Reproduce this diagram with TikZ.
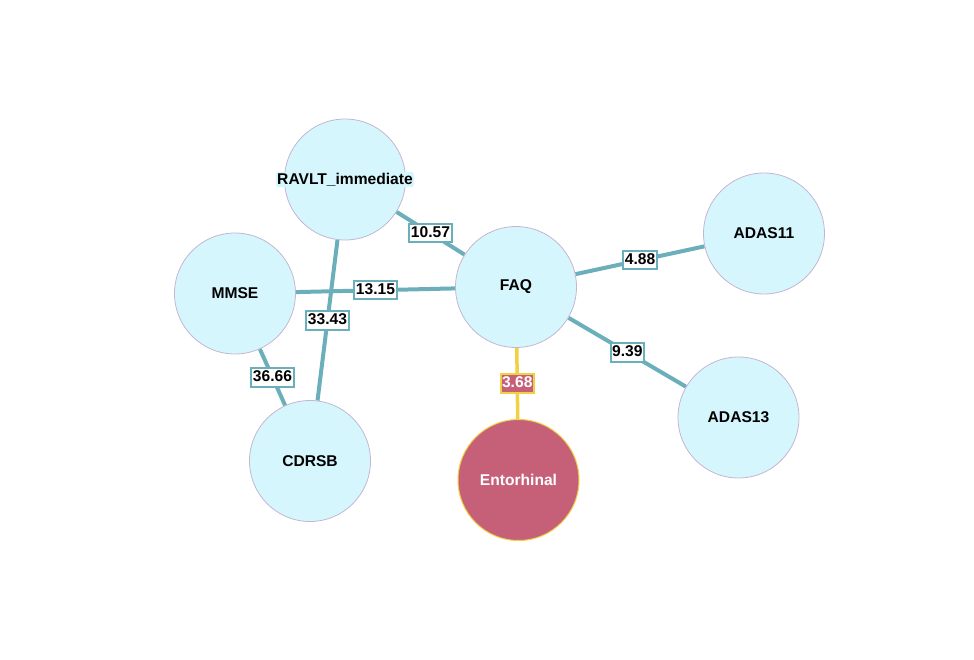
\documentclass[tikz,border=0pt]{standalone}
\usepackage{fontspec}
\setmainfont{Liberation Sans}
\usetikzlibrary{backgrounds}
\definecolor{nodefill}{HTML}{D6F6FD}
\definecolor{nodeedge}{HTML}{C4B6D2}
\definecolor{edgeteal}{HTML}{6BAFBA}
\definecolor{entfill}{HTML}{C66079}
\definecolor{entyellow}{HTML}{F1D043}
\begin{document}
\begin{tikzpicture}[x=1pt,y=-1pt,
  vnode/.style={circle, minimum size=121pt, inner sep=0pt, fill=nodefill, draw=nodeedge, line width=0.8pt},
  entnode/.style={circle, minimum size=121pt, inner sep=0pt, fill=entfill, draw=entyellow, line width=1pt},
  vtext/.style={font=\bfseries\fontsize{15.6}{18}\selectfont, fill=nodefill, inner sep=1pt, rounded corners=2pt},
  enttext/.style={font=\bfseries\fontsize{15.6}{18}\selectfont, text=white, inner sep=1pt},
  edge/.style={draw=edgeteal, line width=4pt},
  entedge/.style={draw=entyellow, line width=3.5pt},
  elabel/.style={midway, fill=white, draw=edgeteal, line width=2pt, inner sep=1.5pt,
    text height=12pt, text depth=3.5pt, font=\bfseries\fontsize{15.6}{18}\selectfont},
  entlabel/.style={midway, fill=entfill, draw=entyellow, line width=2pt, inner sep=1.5pt,
    text height=12pt, text depth=3.5pt, text=white, font=\bfseries\fontsize{15.6}{18}\selectfont}
]
\useasboundingbox (0,0) rectangle (974,660);
\node[vnode, label={[vtext]center:RAVLT\_immediate}] (ravlt) at (345,179.5) {};
\node[vnode, label={[vtext]center:FAQ}] (faq) at (516,287) {};
\node[vnode, label={[vtext]center:ADAS11}] (adas11) at (764,233.5) {};
\node[vnode, label={[vtext]center:MMSE}] (mmse) at (235,293.5) {};
\node[vnode, label={[vtext]center:ADAS13}] (adas13) at (738.5,417.5) {};
\node[vnode, label={[vtext]center:CDRSB}] (cdrsb) at (310,461) {};
\node[entnode, label={[enttext]center:Entorhinal}] (ent) at (518.5,480) {};
\begin{scope}[on background layer]
\draw[edge] (mmse) -- node[elabel]{13.15} (faq);
\draw[edge] (ravlt) -- node[elabel]{10.57} (faq);
\draw[edge] (ravlt) -- node[elabel]{33.43} (cdrsb);
\draw[edge] (mmse) -- node[elabel]{36.66} (cdrsb);
\draw[edge] (faq) -- node[elabel]{4.88} (adas11);
\draw[edge] (faq) -- node[elabel]{9.39} (adas13);
\draw[entedge] (faq) -- node[entlabel]{3.68} (ent);
\end{scope}
\end{tikzpicture}
\end{document}
